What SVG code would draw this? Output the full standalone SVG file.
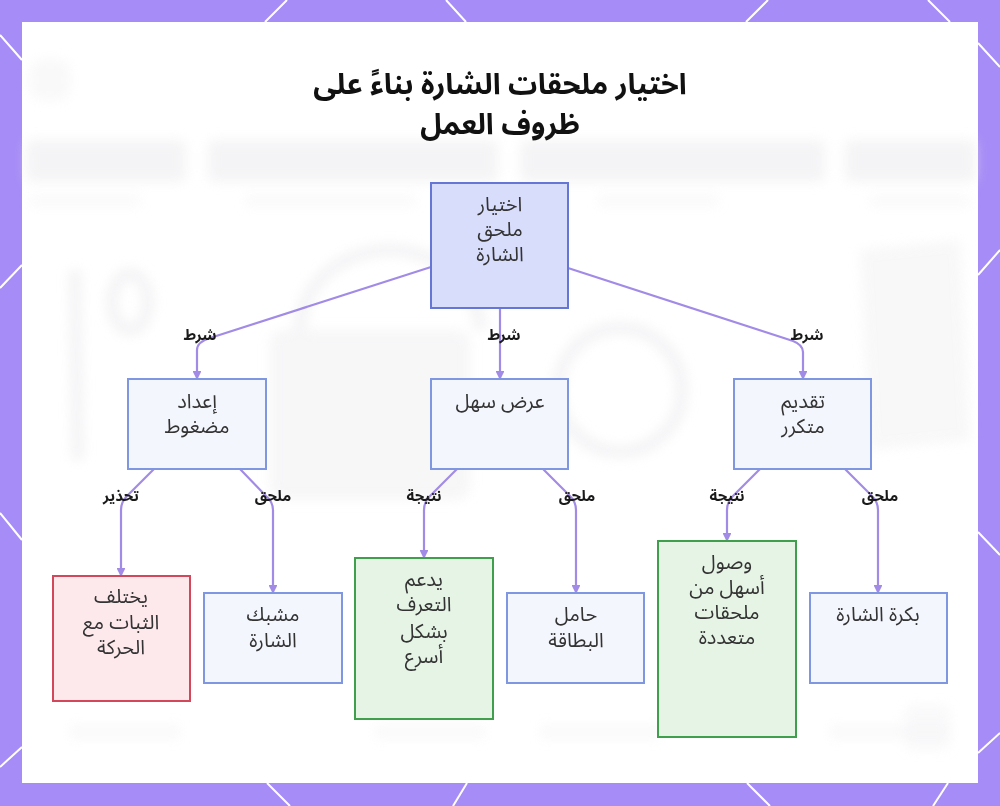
<svg xmlns="http://www.w3.org/2000/svg" width="1000" height="806" viewBox="0 0 1000 806">
<defs>
<style>
.bgline{stroke:#ffffff;stroke-width:2;fill:none}
.ghost{fill:#ececef}
.ghoststroke{fill:none;stroke:#eaeaee;stroke-width:12}
.root rect{fill:#d9ddfc;stroke:#6676d6;stroke-width:2}
.blue rect{fill:#f4f6fe;stroke:#7f96e0;stroke-width:2}
.red rect{fill:#fde8ec;stroke:#d2475a;stroke-width:2}
.green rect{fill:#e6f4e6;stroke:#3f9f4c;stroke-width:2}
.node text{font-family:"Noto Sans Arabic","Noto Sans","DejaVu Sans",sans-serif;font-size:20px;fill:#333333;text-anchor:middle;dominant-baseline:central}
.edge{fill:none;stroke:#a28be6;stroke-width:2.2}
.elabel{font-family:"Noto Sans Arabic","Noto Sans","DejaVu Sans",sans-serif;font-size:15px;font-weight:bold;fill:#1a1a1a;text-anchor:middle;dominant-baseline:central}
.title{font-family:"Noto Sans Arabic","Noto Sans","DejaVu Sans",sans-serif;font-size:29px;font-weight:bold;fill:#111;text-anchor:middle;dominant-baseline:central}
</style>
<filter id="blur" x="-20%" y="-20%" width="140%" height="140%"><feGaussianBlur stdDeviation="6"/></filter>
<marker id="arr" viewBox="0 0 10 10" refX="9" refY="5" markerWidth="4" markerHeight="4" orient="auto"><path d="M0,0 L10,5 L0,10 z" fill="#a28be6"/></marker>
</defs>

<!-- background -->
<rect x="0" y="0" width="1000" height="806" fill="#a68cf6"/>
<g id="pattern">
<line class="bgline" x1="265" y1="22" x2="287" y2="0"/>
<line class="bgline" x1="446" y1="0" x2="466" y2="22"/>
<line class="bgline" x1="746" y1="22" x2="768" y2="0"/>
<line class="bgline" x1="928" y1="0" x2="950" y2="22"/>
<line class="bgline" x1="0" y1="35" x2="22" y2="60"/>
<line class="bgline" x1="0" y1="288" x2="22" y2="265"/>
<line class="bgline" x1="0" y1="513" x2="22" y2="540"/>
<line class="bgline" x1="0" y1="767" x2="22" y2="747"/>
<line class="bgline" x1="267" y1="783" x2="290" y2="806"/>
<line class="bgline" x1="453" y1="806" x2="467" y2="783"/>
<line class="bgline" x1="747" y1="783" x2="770" y2="806"/>
<line class="bgline" x1="933" y1="806" x2="948" y2="783"/>
<line class="bgline" x1="978" y1="43" x2="1000" y2="67"/>
<line class="bgline" x1="978" y1="275" x2="1000" y2="250"/>
<line class="bgline" x1="978" y1="532" x2="1000" y2="555"/>
<line class="bgline" x1="978" y1="753" x2="1000" y2="733"/>
</g>
<rect x="22" y="22" width="956" height="761" fill="#ffffff"/>

<!-- faded background picture -->
<g id="ghost" filter="url(#blur)" opacity="0.55">
<rect class="ghost" x="26" y="140" width="160" height="42" rx="6"/>
<rect class="ghost" x="208" y="140" width="290" height="42" rx="6"/>
<rect class="ghost" x="520" y="140" width="305" height="42" rx="6"/>
<rect class="ghost" x="845" y="140" width="131" height="42" rx="6"/>
<rect class="ghost" x="30" y="196" width="110" height="10" opacity="0.6"/>
<rect class="ghost" x="245" y="196" width="170" height="10" opacity="0.6"/>
<rect class="ghost" x="598" y="196" width="120" height="10" opacity="0.6"/>
<rect class="ghost" x="870" y="196" width="100" height="10" opacity="0.6"/>
<rect class="ghost" x="30" y="60" width="40" height="40" rx="10" opacity="0.6"/>
<line class="ghoststroke" x1="75" y1="270" x2="78" y2="460"/>
<path class="ghoststroke" d="M130,330 a18,28 0 1,1 0.1,0 z"/>
<path class="ghoststroke" d="M300,330 a90,80 0 0,1 180,0"/>
<rect class="ghost" x="270" y="330" width="200" height="170" rx="14" opacity="0.8"/>
<circle class="ghoststroke" cx="620" cy="390" r="62"/>
<path class="ghost" d="M860,250 L960,240 L970,440 L870,450 z" opacity="0.7"/>
<rect class="ghost" x="70" y="725" width="110" height="14" opacity="0.5"/>
<rect class="ghost" x="375" y="725" width="110" height="14" opacity="0.5"/>
<rect class="ghost" x="540" y="725" width="120" height="14" opacity="0.5"/>
<rect class="ghost" x="830" y="725" width="120" height="14" opacity="0.5"/>
<rect class="ghost" x="905" y="705" width="45" height="45" rx="8" opacity="0.5"/>
</g>

<!-- title -->
<g id="title">
<text class="title" x="500" y="84">اختيار ملحقات الشارة بناءً على</text>
<text class="title" x="500" y="124">ظروف العمل</text>
</g>

<!-- connectors -->
<g id="connectors">
<path class="edge" marker-end="url(#arr)" d="M431,267 L210,338 Q197,342 197,350 L197,379"/>
<path class="edge" marker-end="url(#arr)" d="M500,308 L500,379"/>
<path class="edge" marker-end="url(#arr)" d="M568,268 L793,341 Q803,345 803,352 L803,379"/>
<path class="edge" marker-end="url(#arr)" d="M154,469 L127,496 Q121,502 121,510 L121,576"/>
<path class="edge" marker-end="url(#arr)" d="M240,469 L266,496 Q273,502 273,510 L273,593"/>
<path class="edge" marker-end="url(#arr)" d="M457,469 L430,496 Q424,502 424,510 L424,558"/>
<path class="edge" marker-end="url(#arr)" d="M543,469 L570,496 Q576,502 576,510 L576,593"/>
<path class="edge" marker-end="url(#arr)" d="M760,469 L733,496 Q727,502 727,510 L727,541"/>
<path class="edge" marker-end="url(#arr)" d="M845,469 L872,496 Q878,502 878,510 L878,593"/>
<text class="elabel" x="200" y="335">شرط</text>
<text class="elabel" x="504" y="335">شرط</text>
<text class="elabel" x="807" y="335">شرط</text>
<text class="elabel" x="121" y="496">تحذير</text>
<text class="elabel" x="273" y="496">ملحق</text>
<text class="elabel" x="424" y="496">نتيجة</text>
<text class="elabel" x="577" y="496">ملحق</text>
<text class="elabel" x="727" y="496">نتيجة</text>
<text class="elabel" x="880" y="496">ملحق</text>
</g>

<!-- nodes -->
<g id="n-root" class="node root">
<rect x="431" y="183" width="137" height="125"/>
<text x="500" y="205">اختيار</text>
<text x="500" y="230">ملحق</text>
<text x="500" y="255">الشارة</text>
</g>
<g id="n-compact" class="node blue">
<rect x="128" y="379" width="138" height="90"/>
<text x="197" y="402">إعداد</text>
<text x="197" y="427">مضغوط</text>
</g>
<g id="n-easy" class="node blue">
<rect x="431" y="379" width="137" height="90"/>
<text x="500" y="402">عرض سهل</text>
</g>
<g id="n-frequent" class="node blue">
<rect x="734" y="379" width="137" height="90"/>
<text x="803" y="402">تقديم</text>
<text x="803" y="427">متكرر</text>
</g>
<g id="n-warn" class="node red">
<rect x="53" y="576" width="137" height="125"/>
<text x="121" y="597">يختلف</text>
<text x="121" y="623">الثبات مع</text>
<text x="121" y="648">الحركة</text>
</g>
<g id="n-clip" class="node blue">
<rect x="204" y="593" width="138" height="90"/>
<text x="273" y="615">مشبك</text>
<text x="273" y="641">الشارة</text>
</g>
<g id="n-recog" class="node green">
<rect x="355" y="558" width="138" height="161"/>
<text x="424" y="580">يدعم</text>
<text x="424" y="605">التعرف</text>
<text x="424" y="632">بشكل</text>
<text x="424" y="657">أسرع</text>
</g>
<g id="n-holder" class="node blue">
<rect x="507" y="593" width="137" height="90"/>
<text x="576" y="615">حامل</text>
<text x="576" y="641">البطاقة</text>
</g>
<g id="n-access" class="node green">
<rect x="658" y="541" width="138" height="196"/>
<text x="727" y="563">وصول</text>
<text x="727" y="588">أسهل من</text>
<text x="727" y="613">ملحقات</text>
<text x="727" y="638">متعددة</text>
</g>
<g id="n-reel" class="node blue">
<rect x="810" y="593" width="137" height="90"/>
<text x="878" y="615">بكرة الشارة</text>
</g>
</svg>
